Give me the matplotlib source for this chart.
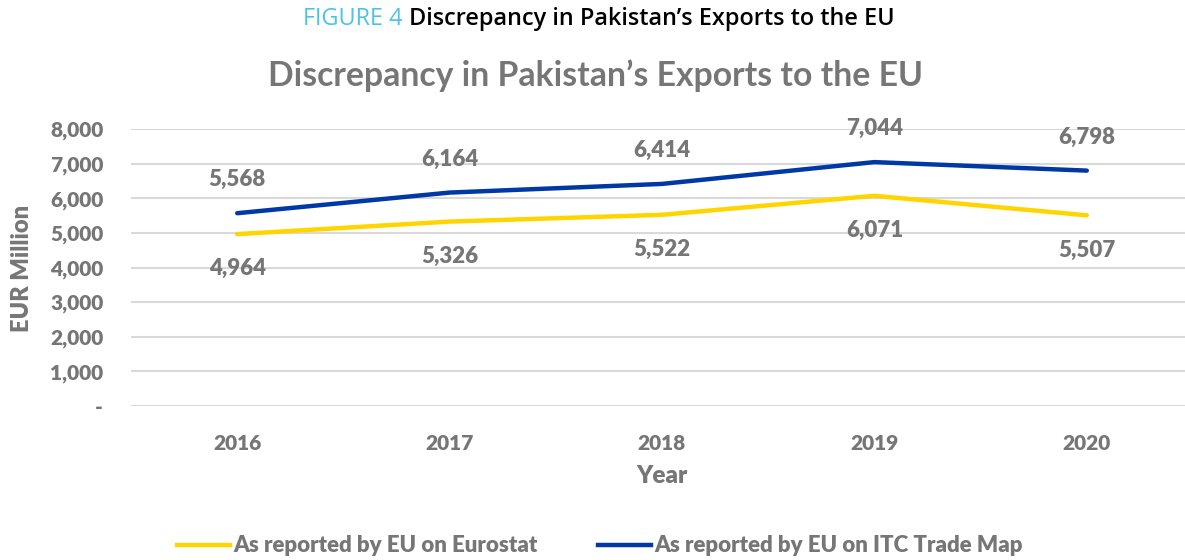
import matplotlib
matplotlib.use("Agg")
import matplotlib.pyplot as plt
from matplotlib.lines import Line2D
from matplotlib.ticker import FuncFormatter

plt.rcParams['font.family'] = ['Lato', 'DejaVu Sans']

# data
years = ['2016', '2017', '2018', '2019', '2020']
eurostat = [4964, 5326, 5522, 6071, 5507]
itc = [5568, 6164, 6414, 7044, 6798]
yticks = [0, 1000, 2000, 3000, 4000, 5000, 6000, 7000, 8000]

GREY = '#767676'
YELLOW = '#FFD500'
BLUE = '#0039A6'

fig = plt.figure(figsize=(11.85, 5.6), dpi=100)
W, H = 1185, 560
left, right, top, bottom = 131, 1193, 129, 406
ax = fig.add_axes([left / W, 1 - bottom / H, (right - left) / W, (bottom - top) / H])

x = list(range(len(years)))
ax.plot(x, eurostat, color=YELLOW, lw=3.2, solid_capstyle='round', zorder=3)
ax.plot(x, itc, color=BLUE, lw=3.2, solid_capstyle='round', zorder=3)

for xi, v in zip(x, itc):
    ax.annotate(f'{v:,}', (xi, v), xytext=(0, 24), textcoords='offset points',
                ha='center', va='center', fontsize=16, fontweight='heavy', color=GREY)
for xi, v in zip(x, eurostat):
    ax.annotate(f'{v:,}', (xi, v), xytext=(0, -25), textcoords='offset points',
                ha='center', va='center', fontsize=16, fontweight='heavy', color=GREY)

ax.set_xlim(-0.5, len(years) - 0.5)
ax.set_ylim(0, 8000)
ax.set_xticks(x)
ax.set_xticklabels(years)
ax.set_yticks(yticks)
ax.yaxis.set_major_formatter(FuncFormatter(lambda v, p: '-' if v == 0 else f'{int(v):,}'))
ax.grid(axis='y', color='#D9D9D9', lw=1.5)
ax.set_axisbelow(True)
for s in ax.spines.values():
    s.set_visible(False)
ax.tick_params(length=0, labelsize=15, labelcolor=GREY)
ax.tick_params(axis='y', pad=20)
ax.tick_params(axis='x', pad=20)
for t in ax.get_xticklabels() + ax.get_yticklabels():
    t.set_fontweight('heavy')

fig.text(22 / W, 1 - 268 / H, 'EUR Million', rotation=90, ha='center', va='center',
         fontsize=17, fontweight='heavy', color=GREY)
fig.text(662 / W, 1 - 476 / H, 'Year', ha='center', va='center',
         fontsize=17.5, fontweight='heavy', color=GREY)

# titles
fig.text(595 / W, 1 - 76 / H, 'Discrepancy in Pakistan\u2019s Exports to the EU',
         ha='center', va='center', fontsize=24.3, fontweight='bold', color=GREY)
t1 = fig.text(303 / W, 1 - 19 / H, 'FIGURE 4 ', ha='left', va='center',
              fontsize=16.9, color='#4CC3E6', family=['Open Sans', 'DejaVu Sans'])
fig.canvas.draw()
bb = t1.get_window_extent()
fig.text(bb.x1 / W, 1 - 19 / H, 'Discrepancy in Pakistan\u2019s Exports to the EU',
         ha='left', va='center', fontsize=16.9, color='black', fontweight='semibold',
         family=['Open Sans', 'DejaVu Sans'])

handles = [Line2D([], [], color=YELLOW, lw=3.2), Line2D([], [], color=BLUE, lw=3.2)]
leg = fig.legend(handles, ['As reported by EU on Eurostat', 'As reported by EU on ITC Trade Map'],
                 loc='center', bbox_to_anchor=(600 / W, 1 - 546 / H), ncol=2, frameon=False,
                 handlelength=2.4, handletextpad=0.15, columnspacing=2.7,
                 prop={'size': 16, 'weight': 'heavy'})
for t in leg.get_texts():
    t.set_color(GREY)

fig.savefig('out.png', dpi=100)
